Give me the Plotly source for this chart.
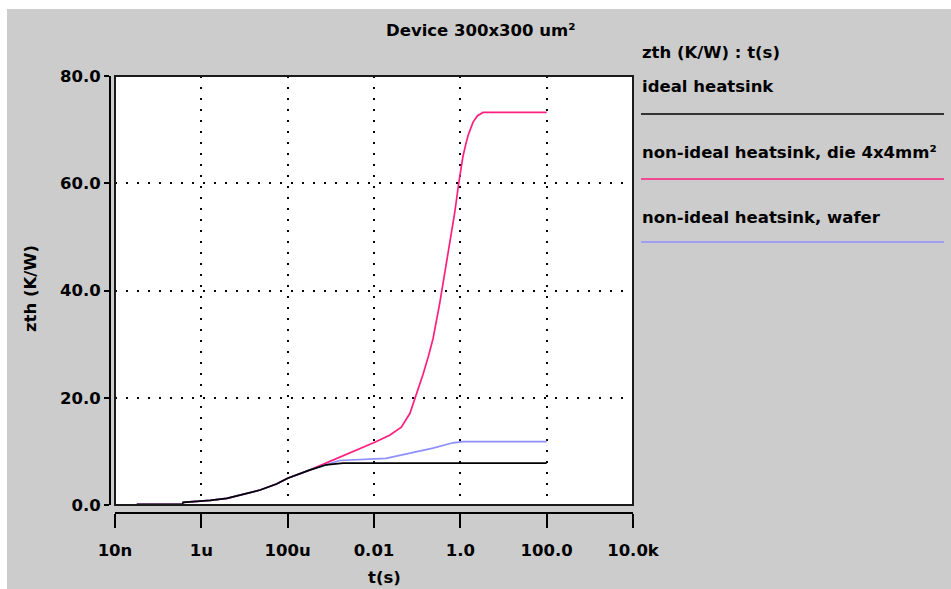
import plotly.graph_objects as go

W, H = 951, 589

# Thermal impedance zth (K/W) versus time t (s)
t_ideal = [3.2e-8, 3.6e-7, 3.8e-7, 1.0e-6, 1.6e-6, 3.9e-6, 9.2e-6, 2.3e-5, 5.5e-5,
           1.0e-4, 3.2e-4, 7.8e-4, 1.9e-3, 100.0]
z_ideal = [0.1, 0.1, 0.5, 0.7, 0.85, 1.25, 2.0, 2.8, 3.9,
           5.0, 6.5, 7.5, 7.8, 7.8]

t_die = [3.2e-8, 3.6e-7, 3.8e-7, 1.0e-6, 1.6e-6, 3.9e-6, 9.2e-6, 2.3e-5, 5.5e-5,
         1.0e-4, 3.2e-4, 9.5e-4, 3.3e-3, 1.04e-2, 2.3e-2, 4.3e-2, 6.8e-2, 8.8e-2,
         0.112, 0.137, 0.18, 0.233, 0.333, 0.436, 0.569, 0.741, 0.918, 1.15, 1.33,
         1.51, 1.97, 2.5, 3.35, 100.0]
z_die = [0.1, 0.1, 0.5, 0.7, 0.85, 1.25, 2.0, 2.8, 3.9,
         5.0, 6.5, 8.1, 9.9, 11.7, 13.0, 14.5, 17.1, 19.8,
         22.0, 24.4, 27.6, 31.0, 37.6, 43.3, 49.0, 54.5, 60.0, 65.0, 67.2,
         68.9, 71.4, 72.6, 73.2, 73.2]

t_wafer = [3.2e-8, 3.6e-7, 3.8e-7, 1.0e-6, 1.6e-6, 3.9e-6, 9.2e-6, 2.3e-5, 5.5e-5,
           1.0e-4, 3.2e-4, 7.8e-4, 1.6e-3, 1.9e-2, 6.8e-2, 0.233, 0.68, 1.15, 100.0]
z_wafer = [0.1, 0.1, 0.5, 0.7, 0.85, 1.25, 2.0, 2.8, 3.9,
           5.0, 6.5, 7.5, 8.3, 8.7, 9.6, 10.6, 11.6, 11.8, 11.8]

series_names = ["ideal heatsink", "non-ideal heatsink, die 4x4mm²", "non-ideal heatsink, wafer"]
series_colors = ["#000000", "#ff1f7f", "#8f8fff"]

x_tickvals = [1e-8, 1e-6, 1e-4, 1e-2, 1.0, 1e2, 1e4]
x_ticktext = ["10n", "1u", "100u", "0.01", "1.0", "100.0", "10.0k"]
y_tickvals = [0, 20, 40, 60, 80]
y_ticktext = ["0.0", "20.0", "40.0", "60.0", "80.0"]

FONT = "DejaVu Sans"
FS = 16.5


def px(x):
    return x / W


def py(y):
    return 1 - y / H


fig = go.Figure()

# draw order: die, wafer, then ideal on top
for t, z, i in [(t_die, z_die, 1), (t_wafer, z_wafer, 2), (t_ideal, z_ideal, 0)]:
    fig.add_trace(go.Scatter(x=t, y=z, mode="lines", name=series_names[i],
                             line=dict(color=series_colors[i], width=1.7),
                             showlegend=False))

plot_l, plot_r, plot_t, plot_b = 115, 633, 76, 505

fig.update_layout(
    template="none",
    width=W, height=H, autosize=False,
    margin=dict(l=0, r=0, t=0, b=0, pad=0),
    paper_bgcolor="#cccccc",
    plot_bgcolor="#ffffff",
    font=dict(family=FONT, size=FS, color="#000000"),
    xaxis=dict(
        type="log", range=[-8, 4],
        domain=[px(plot_l), px(plot_r)],
        anchor="free", position=py(513), automargin=False,
        tickvals=x_tickvals, ticktext=x_ticktext,
        tickfont=dict(family=FONT, size=FS, weight="bold"),
        ticks="outside", ticklen=14, tickwidth=2, tickcolor="#000000",
        ticklabelstandoff=8,
        showline=True, linecolor="#000000", linewidth=2,
        showgrid=True, gridcolor="#000000", gridwidth=1.5, griddash="1.5px,9.5px",
        zeroline=False,
    ),
    yaxis=dict(
        range=[0, 80],
        domain=[py(plot_b), py(plot_t)],
        anchor="free", position=px(110), automargin=False,
        tickvals=y_tickvals, ticktext=y_ticktext,
        tickfont=dict(family=FONT, size=FS, weight="bold"),
        ticks="outside", ticklen=5, tickwidth=2, tickcolor="#000000",
        showline=True, linecolor="#000000", linewidth=2,
        showgrid=True, gridcolor="#000000", gridwidth=1.5, griddash="1.5px,9.5px",
        zeroline=False,
    ),
)

shapes = [
    # white page edge along the top and left
    dict(type="rect", xref="paper", yref="paper", x0=0, x1=1, y0=py(9), y1=1,
         fillcolor="#ffffff", line=dict(width=0), layer="below"),
    dict(type="rect", xref="paper", yref="paper", x0=0, x1=px(7), y0=0, y1=1,
         fillcolor="#ffffff", line=dict(width=0), layer="below"),
    # frame around the plotting area
    dict(type="rect", xref="x domain", yref="y domain", x0=0, x1=1, y0=0, y1=1,
         line=dict(color="#1a1a1a", width=2), fillcolor="rgba(0,0,0,0)", layer="above"),
]

annotations = [
    dict(text="Device 300x300 um²", x=px(480), y=py(30), xref="paper", yref="paper",
         showarrow=False, xanchor="center", yanchor="middle",
         font=dict(family=FONT, size=FS, weight="bold")),
    dict(text="zth (K/W)", x=px(30), y=py(289), xref="paper", yref="paper",
         showarrow=False, textangle=-90, xanchor="center", yanchor="middle",
         font=dict(family=FONT, size=FS, weight="bold")),
    dict(text="t(s)", x=px(384), y=py(577), xref="paper", yref="paper",
         showarrow=False, xanchor="center", yanchor="middle",
         font=dict(family=FONT, size=FS, weight="bold")),
    dict(text="zth (K/W) : t(s)", x=px(640), y=py(53), xref="paper", yref="paper",
         showarrow=False, xanchor="left", yanchor="middle",
         font=dict(family=FONT, size=FS, weight="bold")),
]

# key entries: name above a coloured line sample
key_text_y = [87, 152, 217]
key_line_y = [114, 179, 242]
for name, color, ty, ly in zip(series_names, series_colors, key_text_y, key_line_y):
    annotations.append(dict(text=name, x=px(640), y=py(ty), xref="paper", yref="paper",
                            showarrow=False, xanchor="left", yanchor="middle",
                            font=dict(family=FONT, size=FS, weight="bold")))
    shapes.append(dict(type="line", xref="paper", yref="paper",
                       x0=px(641), x1=px(944), y0=py(ly), y1=py(ly),
                       line=dict(color=color, width=1.6)))

fig.update_layout(shapes=shapes, annotations=annotations)

fig.write_html(
    "out.html",
    config={"responsive": False, "displayModeBar": False},
    post_script="document.body.style.margin='0';document.body.style.overflow='hidden';",
)
